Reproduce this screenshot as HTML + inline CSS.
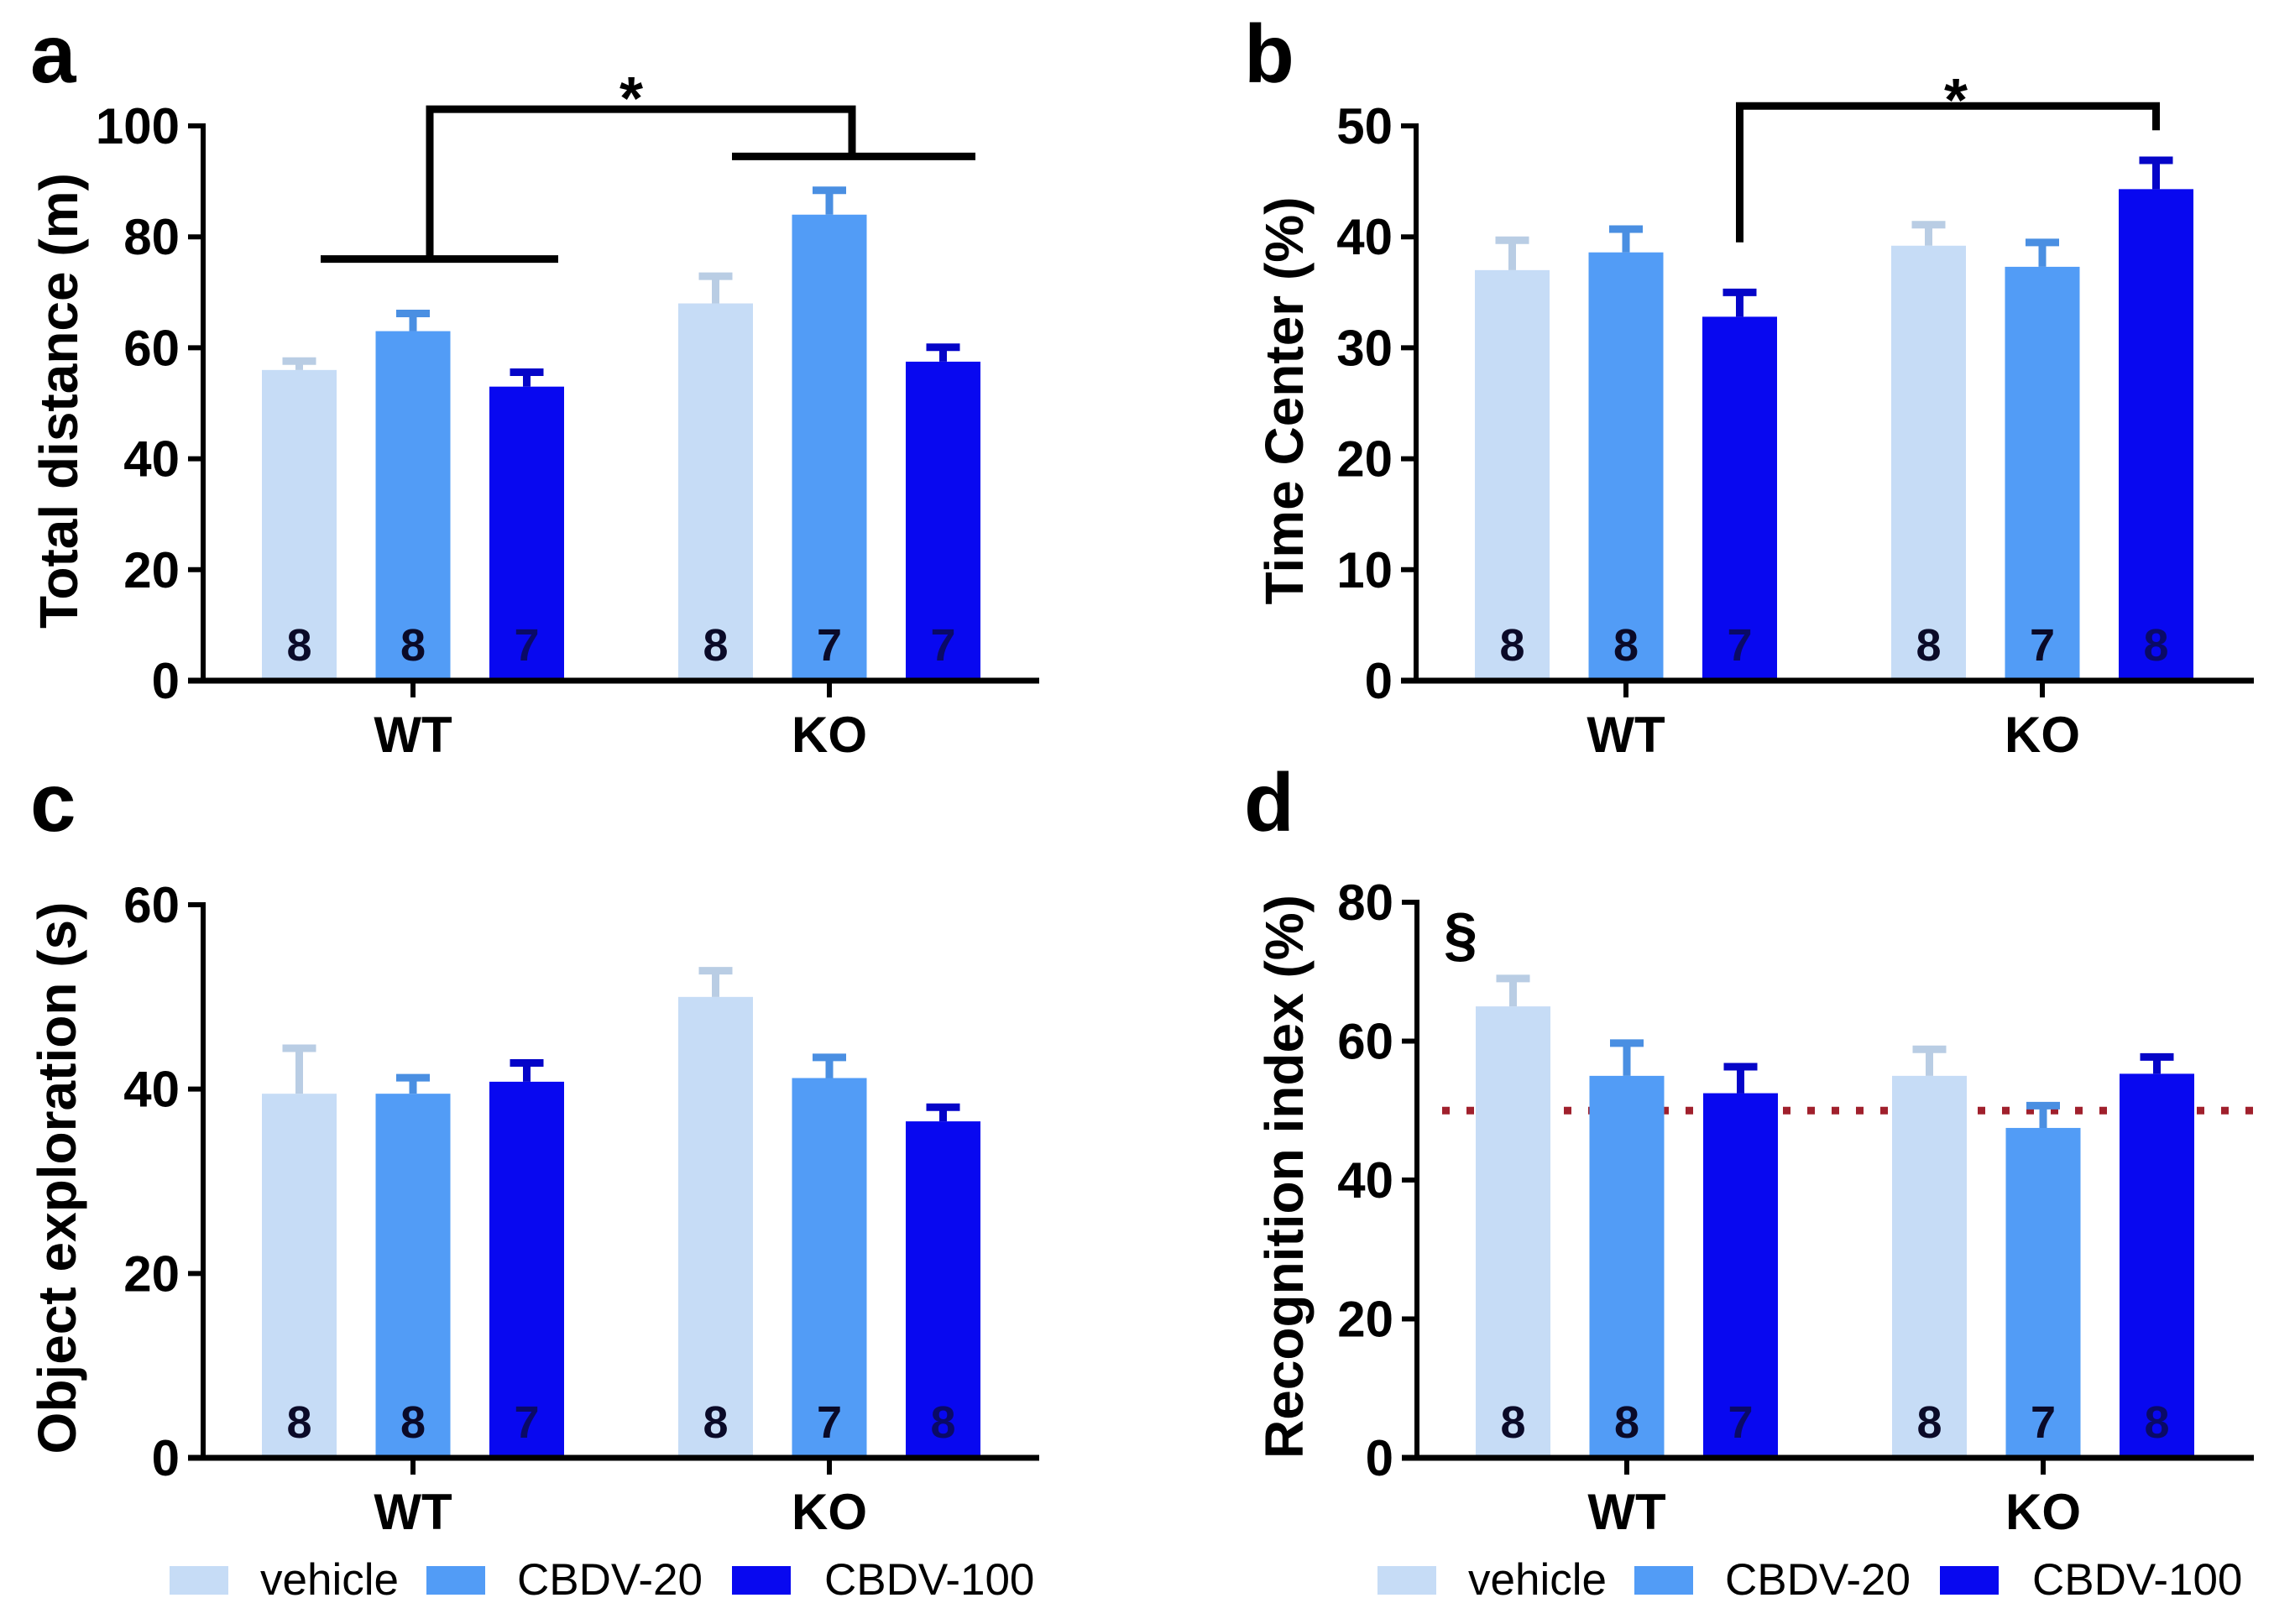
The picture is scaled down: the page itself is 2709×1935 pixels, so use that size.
<!DOCTYPE html>
<html><head><meta charset="utf-8"><style>
html,body{margin:0;padding:0;background:#fff;}
svg{display:block;}
text{font-family:"Liberation Sans",Arial,sans-serif;}
</style></head><body>
<svg id="fig" width="2709" height="1935" viewBox="0 0 2709 1935" xmlns="http://www.w3.org/2000/svg">
<rect width="2709" height="1935" fill="#fff"/>
</svg>
<script>
const groups = ["WT", "KO"];
const seriesNames = ["vehicle", "CBDV-20", "CBDV-100"];
const colors = ["#c6dcf6", "#529cf6", "#0808f0"];
const capColors = ["#b9cde4", "#4a8fe2", "#0505c8"];

const aValues = [[56, 63, 53], [68, 84, 57.5]];
const aErrors = [[58.2, 66.8, 56.2], [73.5, 89, 60.7]];
const aCounts = [["8","8","7"],["8","7","7"]];
const aTicks = [0, 20, 40, 60, 80, 100];

const bValues = [[37, 38.6, 32.8], [39.2, 37.3, 44.3]];
const bErrors = [[40, 41, 35.3], [41.4, 39.8, 47.2]];
const bCounts = [["8","8","7"],["8","7","8"]];
const bTicks = [0, 10, 20, 30, 40, 50];

const cValues = [[39.5, 39.5, 40.8], [50, 41.2, 36.5]];
const cErrors = [[44.8, 41.6, 43.2], [53.2, 43.8, 38.4]];
const cCounts = [["8","8","7"],["8","7","8"]];
const cTicks = [0, 20, 40, 60];

const dValues = [[65, 55, 52.5], [55, 47.5, 55.3]];
const dErrors = [[69.5, 60.2, 56.8], [59.3, 51.2, 58.2]];
const dCounts = [["8","8","7"],["8","7","8"]];
const dTicks = [0, 20, 40, 60, 80];
const dChance = [50];

const NS = "http://www.w3.org/2000/svg";
const svg = document.getElementById("fig");
function mk(tag, attrs, parent, txt) {
  const e = document.createElementNS(NS, tag);
  for (const k in attrs) e.setAttribute(k, attrs[k]);
  if (txt !== undefined) e.textContent = txt;
  (parent || svg).appendChild(e);
  return e;
}

function panel(cfg) {
  const g = mk("g", {});
  
  
  const ax = cfg.ax, y0 = cfg.y0, yTop = cfg.yTop, yMax = cfg.ticks[cfg.ticks.length - 1];
  const Y = v => y0 - (v / yMax) * (y0 - yTop);
  const X = (gi, si) => ax + cfg.groupOff[gi] + (si - 1) * 135.5;
  const bw = 89;
  const L = mk("text", {x: cfg.lx, y: cfg.ly, "font-size": 98, "font-weight": "bold"}, g, cfg.letter);
  
  
  const tc = (y0 + yTop) / 2 + cfg.titleDy;
  const T = mk("text", {x: cfg.tx, y: tc, "font-size": 64, "font-weight": "bold", "text-anchor": "middle",
    transform: `rotate(-90 ${cfg.tx} ${tc})`, "dominant-baseline": "central"}, g, cfg.title);
  
  
  if (cfg.chance) {
    cfg.chance.forEach(c => {
      const ln = mk("line", {x1: ax + 30, x2: cfg.xEnd, y1: Y(c), y2: Y(c), stroke: "#a0202c", "stroke-width": 9,
        "stroke-dasharray": "9 20"}, g);
      
      
    });
  }
  cfg.values.forEach((row, gi) => row.forEach((v, si) => {
    const cx = X(gi, si);
    const r = mk("rect", {x: cx - bw / 2, y: Y(v), width: bw, height: y0 - Y(v), fill: colors[si]}, g);
    
    
    const e = cfg.errors[gi][si];
    const eb = mk("path", {d: `M${cx} ${Y(v)} V${Y(e)} M${cx - 20} ${Y(e) + 4} H${cx + 20}`, stroke: capColors[si],
      "stroke-width": 9, fill: "none"}, g);
    
    
    const n = mk("text", {x: cx, y: y0 - 24, "font-size": 54, "font-weight": "bold", "text-anchor": "middle",
      fill: si === 2 ? "#0a0a66" : "#0a0a28"}, g, cfg.counts[gi][si]);
    
    
  }));
  const ya = mk("line", {x1: ax, x2: ax, y1: yTop - 3, y2: y0 + 3, stroke: "#000", "stroke-width": 6}, g);
  
  
  const xa = mk("line", {x1: ax - 18, x2: cfg.xEnd, y1: y0, y2: y0, stroke: "#000", "stroke-width": 7}, g);
  
  
  cfg.ticks.forEach(t => {
    const tk = mk("line", {x1: ax - 18, x2: ax, y1: Y(t), y2: Y(t), stroke: "#000", "stroke-width": 6}, g);
    
    
    const tl = mk("text", {x: ax - 28, y: Y(t) + 21, "font-size": 60, "font-weight": "bold", "text-anchor": "end"}, g, String(t));
    
    
  });
  groups.forEach((gn, gi) => {
    const gx = X(gi, 1);
    const tk = mk("line", {x1: gx, x2: gx, y1: y0, y2: y0 + 20, stroke: "#000", "stroke-width": 6}, g);
    
    
    const gl = mk("text", {x: gx, y: y0 + 85, "font-size": 60, "font-weight": "bold", "text-anchor": "middle"}, g, gn);
    
    
  });
  return {g, X, Y};
}

const A = panel({name: "panel-a", letter: "a", lx: 36, ly: 98, ax: 242, y0: 811, yTop: 150, xEnd: 1238,
  groupOff: [250, 746], ticks: aTicks, values: aValues, errors: aErrors, counts: aCounts,
  title: "Total distance (m)", tx: 70, titleDy: -3});
const B = panel({name: "panel-b", letter: "b", lx: 1482, ly: 98, ax: 1687, y0: 811, yTop: 150, xEnd: 2685,
  groupOff: [250, 746], ticks: bTicks, values: bValues, errors: bErrors, counts: bCounts,
  title: "Time Center (%)", tx: 1530, titleDy: -3});
const C = panel({name: "panel-c", letter: "c", lx: 36, ly: 990, ax: 242, y0: 1737, yTop: 1078, xEnd: 1238,
  groupOff: [250, 746], ticks: cTicks, values: cValues, errors: cErrors, counts: cCounts,
  title: "Object exploration  (s)", tx: 68, titleDy: -4});
const D = panel({name: "panel-d", letter: "d", lx: 1482, ly: 990, ax: 1688, y0: 1737, yTop: 1075, xEnd: 2685,
  groupOff: [250, 746], ticks: dTicks, values: dValues, errors: dErrors, counts: dCounts, chance: dChance,
  title: "Recognition index (%)", tx: 1530, titleDy: -4});

function path(g, d, name) {
  const p = mk("path", {d: d, stroke: "#000", "stroke-width": 9, fill: "none"}, g);
  
  
}
function star(g, x, y, s, fs) {
  const t = mk("text", {x: x, y: y, "font-size": fs || 72, "font-weight": "bold", "text-anchor": "middle"}, g, s);
  
  
}
path(A.g, `M382 ${A.Y(76)} H665 M${A.X(0,1)+20} ${A.Y(76)} V${A.Y(103)} H${A.X(1,1)+27} V${A.Y(94.5)} M872 ${A.Y(94.5)} H1162`, "bracket-genotype");
star(A.g, 752, 142, "*");
path(B.g, `M${B.X(0,2)} ${B.Y(39.5)} V${B.Y(51.8)} H${B.X(1,2)} V${B.Y(49.6)}`, "bracket-wt100-ko100");
star(B.g, 2330, 144, "*");
star(D.g, 1740, 1138, "§");

function legend(x0, name) {
  const g = mk("g", {});
  
  
  const sq = [0, 306, 670], tx = [108, 414, 780];
  seriesNames.forEach((s, i) => {
    const r = mk("rect", {x: x0 + sq[i], y: 1866, width: 70, height: 34, fill: colors[i]}, g);
    
    
    const t = mk("text", {x: x0 + tx[i], y: 1900, "font-size": 53}, g, s);
    
    
  });
}
legend(202, "legend-c");
legend(1641, "legend-d");
</script>
</body></html>
